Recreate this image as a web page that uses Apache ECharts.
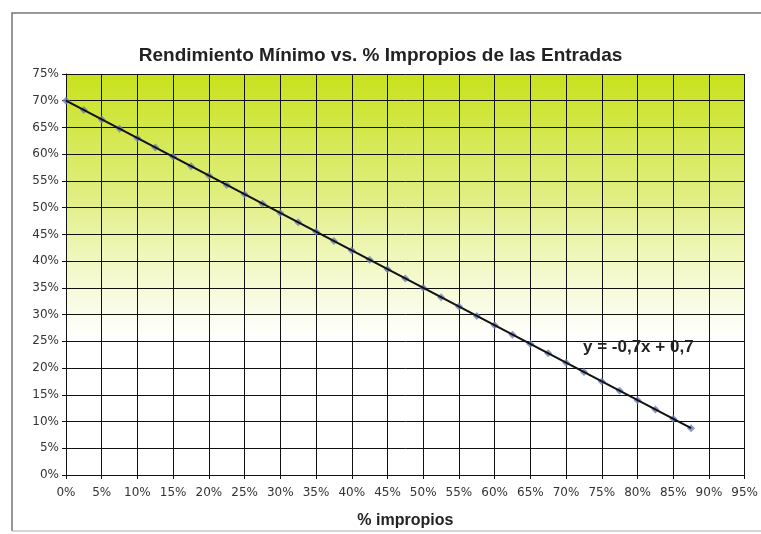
<!DOCTYPE html>
<html>
<head>
<meta charset="utf-8">
<script src="https://cdn.jsdelivr.net/npm/echarts@6/dist/echarts.min.js"></script>
<style>
html, body { margin: 0; padding: 0; background: #fff; }
#chart { width: 761px; height: 534px; }
</style>
</head>
<body>
<div id="chart"></div>
<script>
var impropios = [0, 2.5, 5, 7.5, 10, 12.5, 15, 17.5, 20, 22.5, 25, 27.5, 30, 32.5, 35, 37.5, 40, 42.5,
	45, 47.5, 50, 52.5, 55, 57.5, 60, 62.5, 65, 67.5, 70, 72.5, 75, 77.5, 80, 82.5, 85, 87.5]
var rendimiento = [70, 68.25, 66.5, 64.75, 63, 61.25, 59.5, 57.75, 56, 54.25, 52.5, 50.75, 49, 47.25,
	45.5, 43.75, 42, 40.25, 38.5, 36.75, 35, 33.25, 31.5, 29.75, 28, 26.25, 24.5, 22.75, 21, 19.25,
	17.5, 15.75, 14, 12.25, 10.5, 8.75]
var trendX = [0, 87.5]
var trendY = [70, 8.75]
var equationText = 'y = -0,7x + 0,7'

var points = []
impropios.forEach(function(x, i) {
	points.push([x, rendimiento[i]])
})
var trend = [[trendX[0], trendY[0]], [trendX[1], trendY[1]]]

var myEchart = echarts.init(document.getElementById('chart'))
var font = '"Liberation Sans", Arial, sans-serif'
var tickFont = '"DejaVu Sans", Verdana, sans-serif'
var option = {
	backgroundColor: '#fff',
	animation: false,
	title: {
		text: 'Rendimiento Mínimo vs. % Impropios de las Entradas',
		left: 'center',
		top: 41,
		textStyle: {
			color: '#222',
			fontSize: 19,
			fontWeight: 'bold',
			fontFamily: font
		}
	},
	grid: {
		left: 66,
		right: 12,
		top: 74,
		bottom: 59,
		show: true,
		borderWidth: 0,
		backgroundColor: new echarts.graphic.LinearGradient(0, 0, 0, 1, [
			{offset: 0, color: '#c8e21c'},
			{offset: 0.3, color: '#e0ee80'},
			{offset: 0.5, color: '#f4f9cc'},
			{offset: 0.66, color: '#ffffff'},
			{offset: 1, color: '#ffffff'}
		])
	},
	xAxis: {
		type: 'value',
		min: 0,
		max: 95,
		interval: 5,
		name: '% impropios',
		nameLocation: 'middle',
		nameGap: 38,
		nameTextStyle: {
			color: '#222',
			fontSize: 16,
			fontWeight: 'bold',
			fontFamily: font
		},
		axisLine: { lineStyle: { color: '#111', width: 1 } },
		axisTick: { show: true, length: 4, lineStyle: { color: '#111' } },
		splitLine: { show: true, lineStyle: { color: '#111', width: 1 } },
		axisLabel: {
			color: '#333',
			fontSize: 12,
			fontFamily: tickFont,
			margin: 12,
			formatter: function(v) { return v + '%' }
		}
	},
	yAxis: {
		type: 'value',
		min: 0,
		max: 75,
		interval: 5,
		axisLine: { show: true, lineStyle: { color: '#111', width: 1 } },
		axisTick: { show: true, length: 4, lineStyle: { color: '#111' } },
		splitLine: { show: true, lineStyle: { color: '#111', width: 1 } },
		axisLabel: {
			color: '#333',
			fontSize: 12,
			fontFamily: tickFont,
			margin: 7,
			formatter: function(v) { return v + '%' }
		}
	},
	graphic: [
		{
			type: 'polyline',
			shape: { points: [[12, 531], [12, 13], [761, 13]] },
			style: { stroke: '#777', lineWidth: 1.5, fill: null }
		},
		{
			type: 'line',
			shape: { x1: 12, y1: 531, x2: 761, y2: 531 },
			style: { stroke: '#aaa', lineWidth: 1 }
		},
		{
			type: 'text',
			left: 583,
			top: 339,
			z: 100,
			style: {
				text: equationText,
				fill: '#222',
				font: 'bold 17px ' + font
			}
		}
	],
	series: [
		{
			name: 'Rendimiento',
			type: 'scatter',
			data: points,
			symbol: 'diamond',
			symbolSize: 8,
			itemStyle: { color: '#6f80b8' },
			z: 3
		},
		{
			name: 'Tendencia',
			type: 'line',
			data: trend,
			showSymbol: false,
			symbol: 'none',
			lineStyle: { color: '#111', width: 2 },
			z: 4
		}
	]
}
myEchart.setOption(option)
</script>
</body>
</html>
